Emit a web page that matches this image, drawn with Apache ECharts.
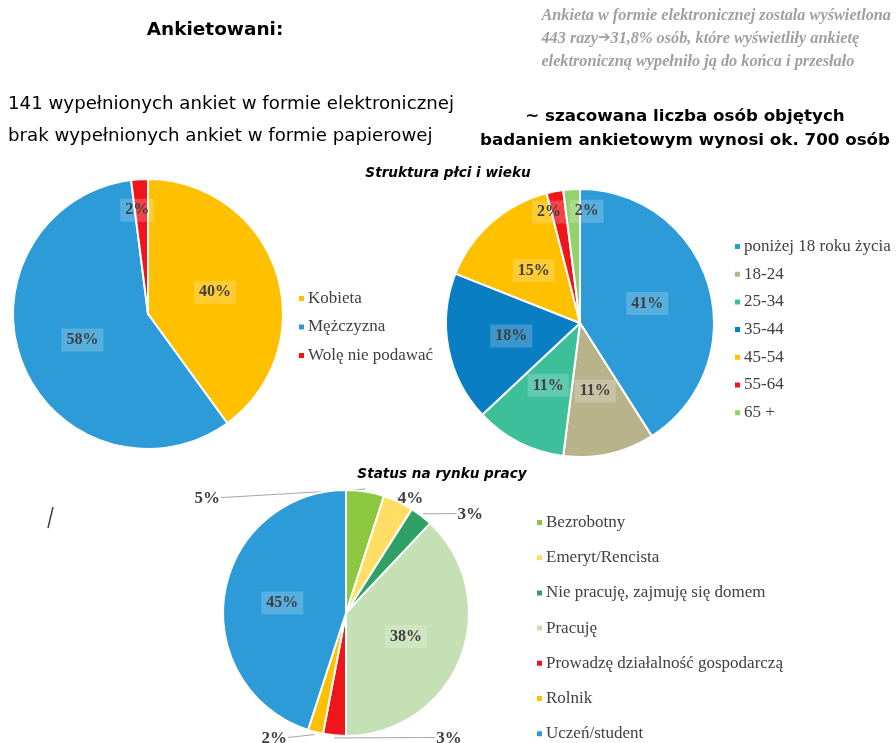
<!DOCTYPE html>
<html>
<head>
<meta charset="utf-8">
<title>Ankietowani</title>
<script src="https://cdn.jsdelivr.net/npm/echarts@6/dist/echarts.min.js"></script>
<style>
  html, body { margin: 0; padding: 0; background: #fff; }
  #chart { width: 896px; height: 743px; }
</style>
</head>
<body>
<div id="chart"></div>
<script>
// plec
const genderNames = ['Kobieta', 'Mężczyzna', 'Wolę nie podawać'];
const genderValues = [40, 58, 2];
const genderColors = ['#FFC000', '#2E9BD9', '#F0141B'];

// wiek
const ageNames = ['poniżej 18 roku życia', '18-24', '25-34', '35-44', '45-54', '55-64', '65 +'];
const ageValues = [41, 11, 11, 18, 15, 2, 2];
const ageColors = ['#2E9BD9', '#B9B38C', '#3DBF99', '#0A7EC2', '#FFC000', '#F0141B', '#92D36E'];

// status na rynku pracy
const jobNames = ['Bezrobotny', 'Emeryt/Rencista', 'Nie pracuję, zajmuję się domem', 'Pracuję',
  'Prowadzę działalność gospodarczą', 'Rolnik', 'Uczeń/student'];
const jobValues = [5, 4, 3, 38, 3, 2, 45];
const jobColors = ['#8DC63F', '#FFDE66', '#2FA066', '#C5E0B4', '#F0141B', '#FFC000', '#2E9BD9'];

const SERIF = '"Liberation Serif", "Times New Roman", serif';
const SANS = '"DejaVu Sans", Verdana, sans-serif';

const JOB_CENTER = [346, 613];

// label nudges (px) for the small slices, like excel's "best fit"
const genderNudge = { 2: [-4, 3] };
const ageNudge = { 5: [-9, 4], 6: [14, 5] };
const jobNudge = { 0: [-199, 15], 1: [-42, -4], 2: [-5, -7], 4: [155, 5], 5: [35, 24] };

const labelBox = {
  color: '#404040',
  fontFamily: SERIF,
  fontWeight: 'bold',
  fontSize: 16,
  backgroundColor: 'rgba(255,255,255,0.2)',
  padding: [4, 5, 3, 5],
  formatter: '{c}%'
};

function toData(names, values) {
  return names.map((n, i) => ({ name: n, value: values[i] }));
}

function nudge(table) {
  return (p) => {
    const d = table[p.dataIndex];
    return d ? { dx: d[0], dy: d[1] } : {};
  };
}

// nudge an outside label and redraw its leader line to the moved label
function nudgeWithLine(table, center) {
  return (p) => {
    const d = table[p.dataIndex];
    if (!d || !p.labelLinePoints) return {};
    const r = p.labelRect;
    const x = r.x + d[0], y = r.y + d[1];
    const s = p.labelLinePoints[0];
    // start a touch outside the arc so the neighbour slice doesn't hide the line
    const vx = s[0] - center[0], vy = s[1] - center[1];
    const len = Math.sqrt(vx * vx + vy * vy) || 1;
    const start = [s[0] + vx / len * 2.5, s[1] + vy / len * 2.5];
    const cy = y + r.height / 2 - 1;
    const ex = (x + r.width / 2) < start[0] ? x + r.width + 1 : x - 1;
    return {
      dx: d[0],
      dy: d[1],
      labelLinePoints: [start, [(start[0] + ex) / 2, (start[1] + cy) / 2], [ex, cy]]
    };
  };
}

// main pie + transparent "ghost" pie that carries labels of small slices further out
function pieSeries(names, values, colors, center, r, ghostRatio, nudgeTable) {
  const main = {
    type: 'pie',
    center: center,
    radius: r,
    startAngle: 90,
    animation: false,
    color: colors,
    itemStyle: { borderColor: '#fff', borderWidth: 2 },
    label: Object.assign({ position: 'inside' }, labelBox),
    labelLine: { show: false },
    emphasis: { scale: false },
    data: toData(names, values).map(d => d.value < 10 ? Object.assign(d, { label: { show: false } }) : d)
  };
  const ghost = {
    type: 'pie',
    center: center,
    radius: Math.round(r * ghostRatio),
    startAngle: 90,
    silent: true,
    animation: false,
    z: 3,
    itemStyle: { color: 'rgba(0,0,0,0)', borderWidth: 0 },
    label: Object.assign({ position: 'inside' }, labelBox),
    labelLine: { show: false },
    labelLayout: nudge(nudgeTable || {}),
    data: toData(names, values).map(d => d.value >= 10 ? Object.assign(d, { label: { show: false } }) : d)
  };
  return [main, ghost];
}

function legendFor(names, left, top, gap) {
  return {
    orient: 'vertical',
    left: left,
    top: top,
    height: 320,
    data: names,
    icon: 'rect',
    itemWidth: 7,
    itemHeight: 7,
    itemGap: gap - 17,
    selectedMode: false,
    textStyle: { fontFamily: SERIF, fontSize: 17, color: '#404040', lineHeight: 16, padding: [0, 0, 0, -2] }
  };
}

const chart = echarts.init(document.getElementById('chart'), null, { renderer: 'canvas' });

const jobSeries = {
  type: 'pie',
  center: JOB_CENTER,
  radius: 123,
  startAngle: 90,
  animation: false,
  color: jobColors,
  itemStyle: { borderColor: '#fff', borderWidth: 2 },
  label: {
    position: 'outside',
    color: '#404040',
    fontFamily: SERIF,
    fontWeight: 'bold',
    fontSize: 17,
    formatter: '{c}%'
  },
  labelLine: { length: 8, length2: 22, lineStyle: { color: '#A6A6A6', width: 1 } },
  labelLayout: nudgeWithLine(jobNudge, JOB_CENTER),
  emphasis: { scale: false },
  data: toData(jobNames, jobValues).map(d => d.value >= 10
    ? Object.assign(d, { label: Object.assign({ position: 'inside' }, labelBox), labelLine: { show: false } })
    : d)
};

const option = {
  backgroundColor: '#fff',
  title: [
    { text: 'Ankietowani:', left: 210, top: 16, textAlign: 'center',
      textStyle: { fontFamily: SANS, fontWeight: 'bold', fontSize: 18.5, color: '#000' } },
    { text: 'Ankieta w formie elektronicznej zostala wyświetlona\n443 razy{a|\u2794}31,8% osób, które wyświetliły ankietę\nelektroniczną wypełniło ją do końca i przesłało',
      right: 0, top: -1,
      textStyle: { fontFamily: SERIF, fontStyle: 'italic', fontWeight: 'bold', fontSize: 16.3, color: '#A0A0A0',
        lineHeight: 23, align: 'right',
        rich: { a: { fontFamily: SANS, fontWeight: 'bold', fontStyle: 'normal', fontSize: 15, color: '#A0A0A0', lineHeight: 23 } } } },
    { text: '141 wypełnionych ankiet w formie elektronicznej\n\nbrak wypełnionych ankiet w formie papierowej',
      left: 3, top: 91,
      textStyle: { fontFamily: SANS, fontWeight: 'normal', fontSize: 18.2, color: '#000', lineHeight: 16 } },
    { text: '~ szacowana liczba osób objętych\nbadaniem ankietowym wynosi ok. 700 osób',
      left: 680, top: 100, textAlign: 'center',
      textStyle: { fontFamily: SANS, fontWeight: 'bold', fontSize: 16.7, color: '#000', lineHeight: 24, align: 'center' } },
    { text: 'Struktura płci i wieku', left: 443, top: 161, textAlign: 'center',
      textStyle: { fontFamily: SANS, fontStyle: 'italic', fontWeight: 'bold', fontSize: 13.6, color: '#000' } },
    { text: 'Status na rynku pracy', left: 437, top: 462, textAlign: 'center',
      textStyle: { fontFamily: SANS, fontStyle: 'italic', fontWeight: 'bold', fontSize: 13.6, color: '#000' } }
  ],
  legend: [
    legendFor(genderNames, 292, 285, 28.5),
    legendFor(ageNames, 728, 233, 27.7),
    legendFor(jobNames, 530, 509, 35.2)
  ],
  graphic: [
    { type: 'line', shape: { x1: 53, y1: 507, x2: 48, y2: 528 }, style: { stroke: '#404040', lineWidth: 1.5 } }
  ],
  series: [
    ...pieSeries(genderNames, genderValues, genderColors, [148, 314], 135, 1.54, genderNudge),
    ...pieSeries(ageNames, ageValues, ageColors, [580, 323], 134, 1.7, ageNudge),
    jobSeries
  ]
};

chart.setOption(option);
</script>
</body>
</html>
